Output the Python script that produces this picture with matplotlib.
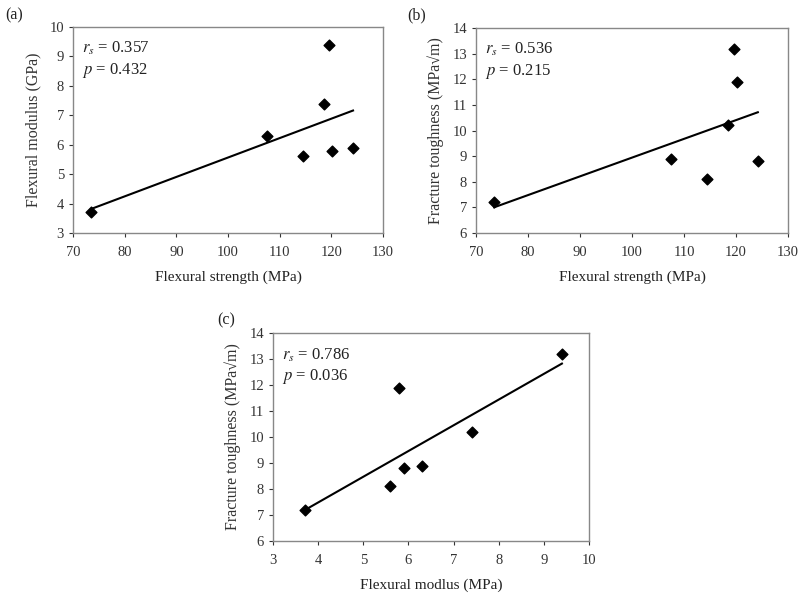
import matplotlib
matplotlib.use("Agg")
import matplotlib.pyplot as plt
import numpy as np

plt.rcParams['font.family'] = ['Liberation Serif', 'DejaVu Serif']
plt.rcParams['mathtext.fontset'] = 'stix'

# seven samples
strength = [73.5, 107.5, 114.5, 118.5, 119.6, 120.2, 124.2]
modulus = [3.7, 6.3, 5.6, 7.4, 9.4, 5.8, 5.9]
toughness = [7.2, 8.9, 8.1, 10.2, 13.2, 11.9, 8.8]

panels = [
    ("(a)", strength, modulus, "Flexural strength (MPa)", "Flexural modulus (GPa)",
     (70, 130), np.arange(70, 131, 10), (3, 10), np.arange(3, 11, 1), "0.357", "0.432"),
    ("(b)", strength, toughness, "Flexural strength (MPa)", "Fracture toughness (MPa√m)",
     (70, 130), np.arange(70, 131, 10), (6, 14), np.arange(6, 15, 1), "0.536", "0.215"),
    ("(c)", modulus, toughness, "Flexural modlus (MPa)", "Fracture toughness (MPa√m)",
     (3, 10), np.arange(3, 11, 1), (6, 14), np.arange(6, 15, 1), "0.786", "0.036"),
]

# axes rectangles in pixels (left, top, right, bottom) on an 800x601 canvas
boxes = [(73, 27, 383, 233), (476, 28, 788, 233), (273, 333, 589, 541)]
label_pos = [(5, 15), (407, 15), (217, 320)]

W, H = 800, 601
fig = plt.figure(figsize=(8, 6.01), dpi=100)

for (tag, x, y, xl, yl, xlim, xt, ylim, yt, rs, p), box, lp in zip(panels, boxes, label_pos):
    l, t, r, b = box
    ax = fig.add_axes([l / W, 1 - b / H, (r - l) / W, (b - t) / H])
    ax.scatter(x, y, marker='D', s=30, color='black', zorder=3)
    k, c = np.polyfit(x, y, 1)
    xs = np.array([min(x), max(x)])
    ax.plot(xs, k * xs + c, color='black', lw=1.5)
    ax.set_xlim(*xlim)
    ax.set_ylim(*ylim)
    ax.set_xticks(xt)
    ax.set_yticks(yt)
    ax.tick_params(labelsize=10.5, colors='#333333', length=3, width=0.8)
    ax.tick_params(axis='x', pad=6)
    for s in ax.spines.values():
        s.set_color('#888888')
        s.set_linewidth(1.0)
    ax.set_xlabel(xl, fontsize=11, color='#222222', labelpad=9)
    ax.set_ylabel(yl, fontsize=11.5, color='#333333', labelpad=6)
    ax.text(0.03, 0.895, r"$r_s$ = " + rs, transform=ax.transAxes, fontsize=12,
            color='#222222', va='center')
    ax.text(0.03, 0.79, r"$p$ = " + p, transform=ax.transAxes, fontsize=12,
            color='#222222', va='center')
    fig.text(lp[0] / W, 1 - lp[1] / H, tag, fontsize=11.5, va='center', color='#222222')

fig.savefig("out.png", dpi=100)
